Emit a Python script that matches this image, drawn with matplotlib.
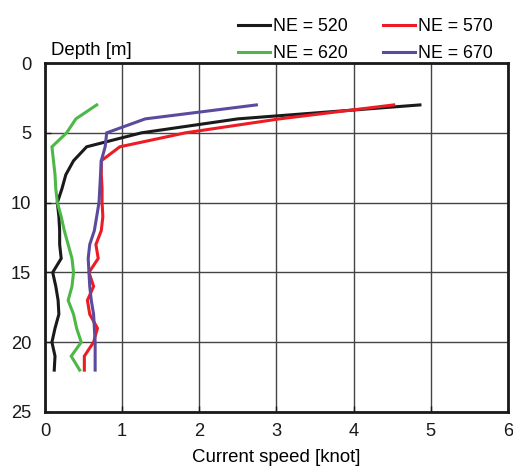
import numpy as np
import matplotlib.pyplot as plt

plt.rcParams['font.family'] = ['Liberation Sans', 'DejaVu Sans']

# ---- Current speed profiles [knot] against depth [m] ----

depth = [3, 4, 5, 6, 7, 8, 9, 10, 11, 12, 13, 14, 15, 16, 17, 18, 19, 20, 21, 22]

speed_ne520 = [4.86, 2.50, 1.25, 0.54, 0.37, 0.27, 0.22, 0.16, 0.18, 0.19,
               0.19, 0.21, 0.10, 0.14, 0.17, 0.18, 0.13, 0.09, 0.13, 0.12]
speed_ne570 = [4.52, 3.04, 1.82, 0.97, 0.73, 0.73, 0.74, 0.74, 0.75, 0.73,
               0.66, 0.69, 0.57, 0.63, 0.55, 0.58, 0.68, 0.63, 0.51, 0.51]
speed_ne620 = [0.67, 0.40, 0.28, 0.09, 0.11, 0.13, 0.14, 0.16, 0.21, 0.25,
               0.30, 0.35, 0.37, 0.35, 0.30, 0.37, 0.41, 0.47, 0.34, 0.45]
speed_ne670 = [2.74, 1.30, 0.80, 0.78, 0.73, 0.72, 0.71, 0.70, 0.67, 0.64,
               0.58, 0.56, 0.57, 0.58, 0.60, 0.63, 0.64, 0.65, 0.65, 0.65]

series_labels = ['NE = 520', 'NE = 570', 'NE = 620', 'NE = 670']
series_colors = ['#1a1a1a', '#ed1c24', '#4db848', '#5c4a9e']

x_ticks = [0, 1, 2, 3, 4, 5, 6]
y_ticks = [0, 5, 10, 15, 20, 25]


fig = plt.figure(figsize=(5.13, 4.67), dpi=100)
ax = fig.add_axes([0.0877, 0.1178, 0.9023, 0.7472])

lines = []
for speeds, label, color in zip([speed_ne520, speed_ne570, speed_ne620, speed_ne670],
                                series_labels, series_colors):
    line, = ax.plot(speeds, depth, color=color, linewidth=2.2, label=label,
                    solid_joinstyle='miter', zorder=3)
    lines.append(line)

ax.set_xlim(0, 6)
ax.set_ylim(25, 0)
ax.set_xticks(x_ticks)
ax.set_yticks(y_ticks)
ax.grid(True, color='#444444', linewidth=1.0)
ax.set_axisbelow(True)

for spine in ax.spines.values():
    spine.set_linewidth(2.0)
    spine.set_color('#1a1a1a')

ax.tick_params(axis='both', direction='in', length=4, width=1,
               labelsize=13.2, colors='#1a1a1a')
ax.tick_params(axis='y', pad=10)
ax.tick_params(axis='x', pad=8)

ax.set_xlabel('Current speed [knot]', fontsize=13.4, labelpad=6.5)
ax.text(0.012, 1.012, 'Depth [m]', transform=ax.transAxes,
        fontsize=13.4, ha='left', va='bottom')

# two rows: 520 / 570 on top, 620 / 670 below
order = [0, 2, 1, 3]
fig.legend([lines[i] for i in order], [series_labels[i] for i in order],
           ncol=2, loc='upper left', bbox_to_anchor=(0.43, 1.0),
           frameon=False, fontsize=12.8, handlelength=1.8, handletextpad=0.15,
           columnspacing=2.0, labelspacing=0.6, borderpad=0.5)

fig.savefig('out.png', dpi=100)
